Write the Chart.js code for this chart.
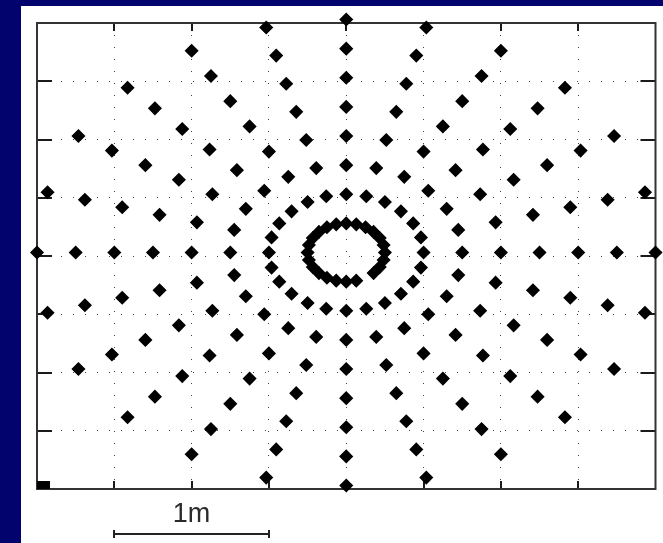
<!DOCTYPE html>
<html>
<head>
<meta charset="utf-8">
<script src="https://cdn.jsdelivr.net/npm/chart.js@4"></script>
<style>
  html, body { margin: 0; padding: 0; background: #03036e; width: 663px; height: 543px; overflow: hidden; }
  #panel { position: absolute; left: 21px; top: 6px; width: 642px; height: 537px; background: #fff; }
  canvas { display: block; }
</style>
</head>
<body>
<div id="panel"><canvas id="myChart" width="642" height="537"></canvas></div>
<script>
// point layout, in grid units (1 grid step = 0.5 m)
const ringRadii = [1, 1.5, 2, 2.5, 3, 3.5, 4];
const spokeAngles = [0, 15, 30, 45, 60, 75, 90, 105, 120, 135, 150, 165,
    180, 195, 210, 225, 240, 255, 270, 285, 300, 315, 330, 345];
const innerRadius = 0.5;
// the small inner ring has one gap in the lower right
const innerAngles = [0, 15, 30, 45, 60, 75, 90, 105, 120, 135, 150, 165,
    180, 195, 210, 225, 240, 255, 270, 285, 315, 330, 345];
const patternCenter = [0, 0.06];
const cornerMark = [-4, -4];

const axisMin = -4;
const axisMax = 4;
const tickStep = 1;
const metresPerStep = 0.5;
const scaleBarLabel = "1m";

function polar(r, deg) {
    const a = deg * Math.PI / 180;
    return { x: patternCenter[0] + r * Math.cos(a), y: patternCenter[1] + r * Math.sin(a) };
}

const points = [];
ringRadii.forEach(r => spokeAngles.forEach(a => points.push(polar(r, a))));
innerAngles.forEach(a => points.push(polar(innerRadius, a)));

// filled block for the corner mark (only the part inside the axes shows)
const block = document.createElement("canvas");
block.width = 26;
block.height = 16;
const bctx = block.getContext("2d");
bctx.fillStyle = "#000";
bctx.fillRect(0, 0, 26, 16);

const frame = {
    id: "frame",
    beforeDatasetsDraw(chart) {
        const { ctx, chartArea: a, scales: { x, y } } = chart;
        ctx.save();
        ctx.strokeStyle = "#1a1a1a";
        ctx.lineWidth = 2;
        ctx.beginPath();
        x.ticks.forEach(t => {
            if (t.value <= axisMin || t.value >= axisMax) return;
            const px = Math.round(x.getPixelForValue(t.value));
            ctx.moveTo(px, a.top);
            ctx.lineTo(px, a.top + 8);
            ctx.moveTo(px, a.bottom);
            ctx.lineTo(px, a.bottom - 8);
        });
        y.ticks.forEach(t => {
            if (t.value <= axisMin || t.value >= axisMax) return;
            const py = Math.round(y.getPixelForValue(t.value));
            ctx.moveTo(a.left, py);
            ctx.lineTo(a.left + 15, py);
            ctx.moveTo(a.right, py);
            ctx.lineTo(a.right - 15, py);
        });
        ctx.stroke();
        ctx.strokeStyle = "#333";
        ctx.strokeRect(a.left, a.top, a.right - a.left, a.bottom - a.top);
        ctx.restore();
    },
    afterDraw(chart) {
        const { ctx, chartArea: a, scales: { x } } = chart;
        const x0 = Math.round(x.getPixelForValue(-3));
        const x1 = Math.round(x.getPixelForValue(-3 + 1 / metresPerStep));
        const yb = a.bottom + 45;
        ctx.save();
        ctx.strokeStyle = "#222";
        ctx.lineWidth = 2;
        ctx.beginPath();
        ctx.moveTo(x0, yb);
        ctx.lineTo(x1, yb);
        ctx.moveTo(x0, yb - 4);
        ctx.lineTo(x0, yb + 4);
        ctx.moveTo(x1, yb - 4);
        ctx.lineTo(x1, yb + 4);
        ctx.stroke();
        ctx.fillStyle = "#2a2a2a";
        ctx.font = "27px 'Liberation Sans', Arial, sans-serif";
        ctx.textAlign = "center";
        ctx.textBaseline = "alphabetic";
        ctx.fillText(scaleBarLabel, (x0 + x1) / 2, a.bottom + 33);
        ctx.restore();
    }
};

const gridAxis = {
    type: "linear",
    min: axisMin,
    max: axisMax,
    ticks: { display: false, stepSize: tickStep },
    grid: { color: "#444", lineWidth: 1, drawTicks: false },
    border: { display: false, dash: [1, 11] },
};

const myChart = new Chart(document.getElementById("myChart").getContext("2d"), {
    type: "scatter",
    data: {
        datasets: [
            {
                data: points,
                pointStyle: "rectRot",
                pointRadius: 6,
                pointBorderWidth: 1.5,
                backgroundColor: "#000",
                borderColor: "#000",
                clip: false,
            },
            {
                data: [{ x: cornerMark[0], y: cornerMark[1] }],
                pointStyle: block,
                clip: 0,
            },
        ],
    },
    options: {
        responsive: false,
        animation: false,
        layout: { padding: { left: 16, right: 7, top: 17, bottom: 54 } },
        scales: { x: gridAxis, y: gridAxis },
        plugins: {
            legend: { display: false },
            tooltip: { enabled: false },
        },
    },
    plugins: [frame],
});
</script>
</body>
</html>
